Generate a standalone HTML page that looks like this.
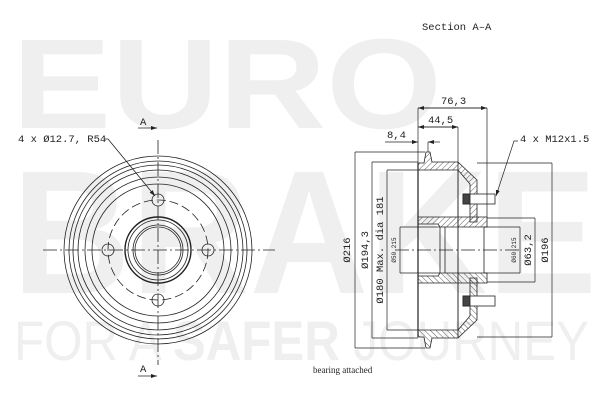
<!DOCTYPE html>
<html><head><meta charset="utf-8"><style>
html,body{margin:0;padding:0;background:#fff;}
svg{display:block;}
</style></head><body>
<svg width="600" height="400" viewBox="0 0 600 400" xmlns="http://www.w3.org/2000/svg">
<defs>
<pattern id="h" width="4" height="4" patternUnits="userSpaceOnUse" patternTransform="rotate(45)">
<line x1="0" y1="0" x2="0" y2="4" stroke="#333" stroke-width="0.8"/>
</pattern>
<marker id="ar" markerWidth="6" markerHeight="6" refX="6" refY="3" orient="auto" markerUnits="userSpaceOnUse"><path d="M0,1 L6,3 L0,5z" fill="#222"/></marker>
</defs>
<!-- watermark -->
<g fill="#efefef" font-family="Liberation Sans, sans-serif">
<text x="12" y="128" font-size="128" font-weight="bold" textLength="430" lengthAdjust="spacingAndGlyphs">EURO</text>
<text x="12" y="293" font-size="176" font-weight="bold" textLength="585" lengthAdjust="spacingAndGlyphs">BRAKE</text>
<text x="14" y="360" font-size="56" textLength="575" lengthAdjust="spacingAndGlyphs">FOR A <tspan font-weight="bold">SAFER</tspan> JOURNEY</text>
</g>
<g font-family="Liberation Mono, monospace" font-size="10.5" fill="#222">
<text x="422" y="30">Section A–A</text>
<text x="18" y="142">4 x Ø12.7, R54</text>
<text x="520" y="142">4 x M12x1.5</text>
<text x="140" y="125">A</text>
<text x="140" y="372">A</text>
<text x="441" y="104">76,3</text>
<text x="428" y="123">44,5</text>
<text x="387" y="138">8,4</text>
<text x="313" y="373" font-family="Liberation Serif, serif" font-size="9">bearing attached</text>
</g>
<!-- left view -->
<g fill="none" stroke="#222" stroke-width="0.8">
<circle cx="158" cy="250" r="94"/>
<circle cx="158" cy="250" r="89"/>
<circle cx="158" cy="250" r="85"/>
<circle cx="158" cy="250" r="80"/>
<circle cx="158" cy="250" r="73"/>
<circle cx="158" cy="250" r="66"/>
<circle cx="158" cy="250" r="50" stroke-dasharray="9,4"/>
<circle cx="158" cy="200" r="6"/>
<circle cx="158" cy="300" r="6"/>
<circle cx="108" cy="250" r="6"/>
<circle cx="208" cy="250" r="6"/>
<circle cx="158" cy="250" r="33" stroke-width="1.4"/>
<circle cx="158" cy="250" r="30"/>
<circle cx="158" cy="250" r="25"/>
<circle cx="158" cy="250" r="23"/>
<line x1="43" y1="250" x2="275" y2="250" stroke-dasharray="14,3,2,3"/>
<line x1="158" y1="140" x2="158" y2="365" stroke-dasharray="14,3,2,3"/>
<polyline points="104,139 108,139 155,196" marker-end="url(#ar)"/>
<line x1="138" y1="128" x2="157" y2="128" marker-end="url(#ar)"/>
<line x1="138" y1="376" x2="157" y2="376" marker-end="url(#ar)"/>
</g>
<!-- section view -->
<g stroke="#222" stroke-width="0.8">
<g id="half">
<polygon points="418,163 424,163 426,152 430,152 432,162 458,162 477,180 477,222 470,222 470,184 458,170 418,170" fill="url(#h)"/>
<polygon points="418,217 487,217 487,227 440,227 438,224 418,224" fill="url(#h)"/>
<rect x="463" y="194" width="32" height="10" fill="#fff"/>
<rect x="463" y="194" width="7" height="10" fill="#444"/>
<line x1="458" y1="162" x2="458" y2="330" fill="none"/>
</g>
<use href="#half" transform="translate(0,500) scale(1,-1)"/>
<line x1="418" y1="163" x2="418" y2="337" fill="none" stroke-width="1.2"/>
<line x1="440" y1="227" x2="440" y2="273"/>
<line x1="445" y1="227" x2="445" y2="273"/>
<line x1="484" y1="227" x2="484" y2="273"/>
<line x1="395" y1="250" x2="520" y2="250" stroke-dasharray="14,3,2,3"/>
</g>
<!-- dimensions -->
<g fill="none" stroke="#222" stroke-width="0.7">
<line x1="418" y1="108" x2="418" y2="163"/>
<line x1="487" y1="108" x2="487" y2="217"/>
<line x1="458" y1="127" x2="458" y2="162"/>
<line x1="428" y1="142" x2="428" y2="152"/>
<line x1="418" y1="108" x2="487" y2="108" marker-end="url(#ar)"/>
<line x1="487" y1="108" x2="418" y2="108" marker-end="url(#ar)"/>
<line x1="418" y1="127" x2="458" y2="127" marker-end="url(#ar)"/>
<line x1="458" y1="127" x2="418" y2="127" marker-end="url(#ar)"/>
<line x1="385" y1="142" x2="418" y2="142" marker-end="url(#ar)"/>
<line x1="440" y1="142" x2="428" y2="142" marker-end="url(#ar)"/>
<line x1="355" y1="152" x2="425" y2="152"/><line x1="355" y1="348" x2="425" y2="348"/>
<line x1="355" y1="152" x2="355" y2="348"/>
<line x1="372" y1="162" x2="418" y2="162"/><line x1="372" y1="338" x2="418" y2="338"/>
<line x1="372" y1="162" x2="372" y2="338"/>
<line x1="387" y1="170" x2="418" y2="170"/><line x1="387" y1="330" x2="418" y2="330"/>
<line x1="387" y1="170" x2="387" y2="330"/>
<line x1="400" y1="227" x2="440" y2="227"/><line x1="400" y1="273" x2="440" y2="273"/>
<line x1="400" y1="227" x2="400" y2="273"/>
<line x1="484" y1="227" x2="520" y2="227"/><line x1="484" y1="273" x2="520" y2="273"/>
<line x1="520" y1="227" x2="520" y2="273"/>
<line x1="487" y1="218" x2="535" y2="218"/><line x1="487" y1="282" x2="535" y2="282"/>
<line x1="535" y1="218" x2="535" y2="282"/>
<line x1="477" y1="163" x2="552" y2="163"/><line x1="477" y1="337" x2="552" y2="337"/>
<line x1="552" y1="163" x2="552" y2="337"/>
<polyline points="518,141 514,141 496,196" marker-end="url(#ar)"/>
</g>
<g font-family="Liberation Mono, monospace" font-size="10.5" fill="#222">
<text transform="translate(350,250) rotate(-90)" text-anchor="middle">Ø216</text>
<text transform="translate(368,250) rotate(-90)" text-anchor="middle">Ø194,3</text>
<text transform="translate(383,250) rotate(-90)" text-anchor="middle">Ø180 Max. dia 181</text>
<text transform="translate(396,250) rotate(-90)" text-anchor="middle" font-size="6">Ø50.215</text>
<text transform="translate(516,250) rotate(-90)" text-anchor="middle" font-size="6">Ø60.215</text>
<text transform="translate(531,250) rotate(-90)" text-anchor="middle">Ø63,2</text>
<text transform="translate(548,250) rotate(-90)" text-anchor="middle">Ø196</text>
</g>
</svg>
</body></html>
